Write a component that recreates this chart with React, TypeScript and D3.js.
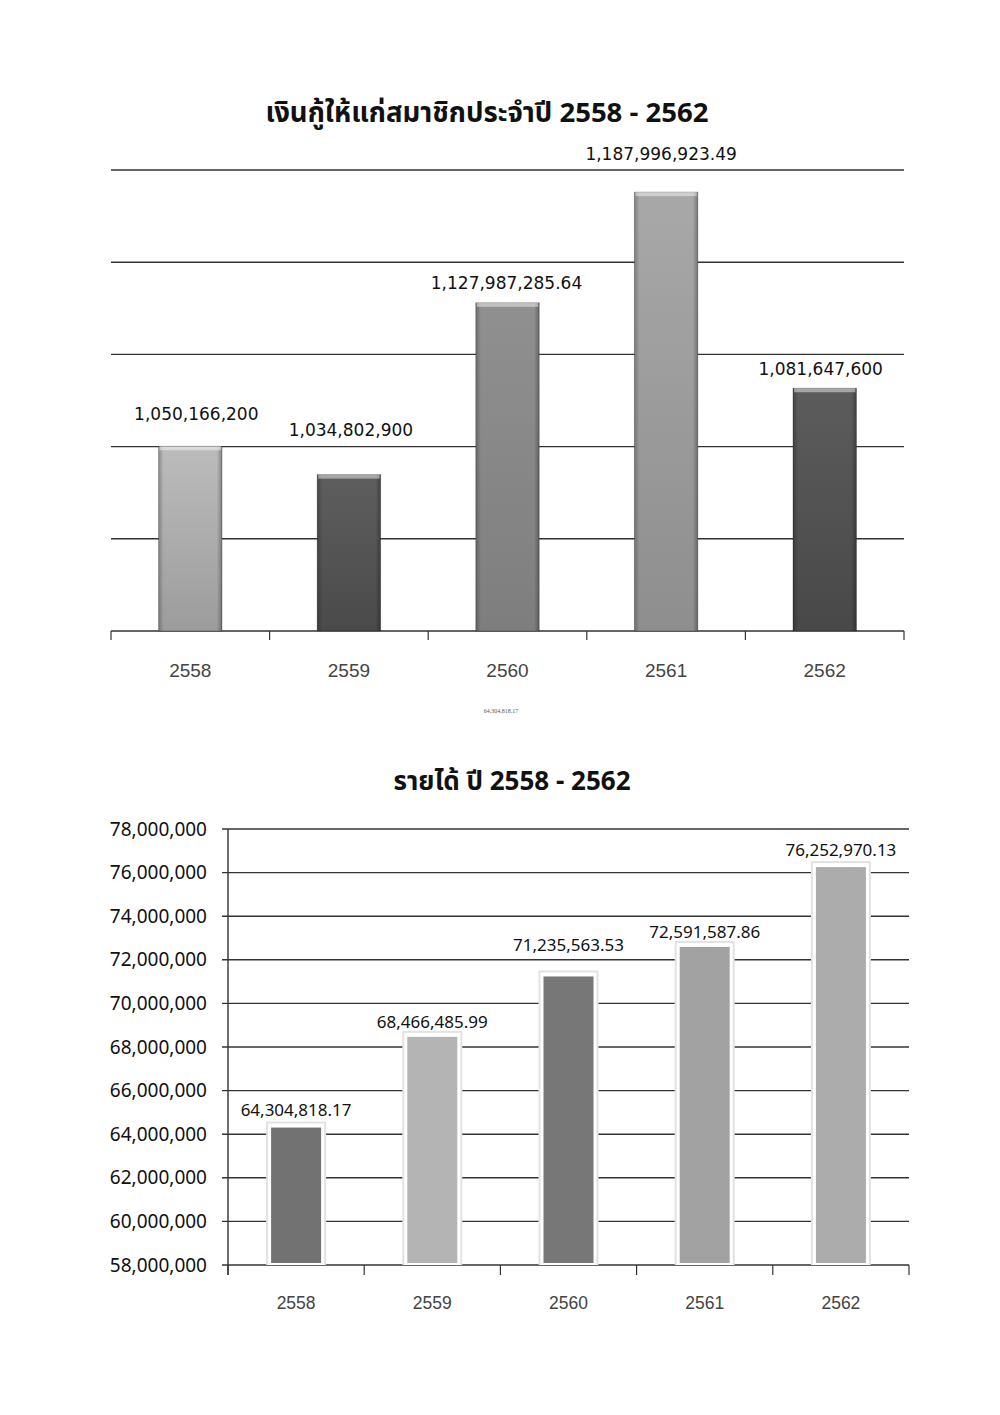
import React from "react";
import * as d3 from "d3";

const years = ["2558", "2559", "2560", "2561", "2562"];
const loanValues = [1050166200, 1034802900, 1127987285.64, 1187996923.49, 1081647600];
const loanLabels = ["1,050,166,200", "1,034,802,900", "1,127,987,285.64", "1,187,996,923.49", "1,081,647,600"];
const loanTicks = [950e6, 1000e6, 1050e6, 1100e6, 1150e6, 1200e6];
const loanColors = [
  ["#bcbcbc", "#9c9c9c"],
  ["#5e5e5e", "#4a4a4a"],
  ["#909090", "#7e7e7e"],
  ["#a8a8a8", "#8e8e8e"],
  ["#5c5c5c", "#484848"],
];

const incomeValues = [64304818.17, 68466485.99, 71235563.53, 72591587.86, 76252970.13];
const incomeLabels = ["64,304,818.17", "68,466,485.99", "71,235,563.53", "72,591,587.86", "76,252,970.13"];
const incomeTicks = [58e6, 60e6, 62e6, 64e6, 66e6, 68e6, 70e6, 72e6, 74e6, 76e6, 78e6];
const incomeColors = ["#727272", "#b4b4b4", "#777777", "#a2a2a2", "#acacac"];

const title1 = "เงินกู้ให้แก่สมาชิกประจำปี 2558 - 2562";
const title2 = "รายได้ ปี 2558 - 2562";
const strayNote = "64,304,818.17";

// label placement nudges (layout only): [dx, lift above bar top]
const loanLabelNudge = [[6, 26], [2, 39], [-1, 14], [-5, 32], [-4, 13]];
const incomeLabelNudge = [[0, 12], [0, 9], [0, 25], [0, 9], [0, 11]];

const fmt = d3.format(",");

export default function App() {
  const x1 = d3.scaleBand<string>().domain(years).range([111, 904]).padding(0);
  const y1 = d3.scaleLinear().domain([950e6, 1200e6]).range([631, 170]);
  const bw1 = x1.bandwidth() * 0.4;

  const x2 = d3.scaleBand<string>().domain(years).range([228, 909]).padding(0);
  const y2 = d3.scaleLinear().domain([58e6, 78e6]).range([1265, 829]);
  const bwIn = 50;
  const bwOut = 56;

  const thai = "'Noto Sans Thai', 'Noto Sans', 'DejaVu Sans', sans-serif";

  return (
    <svg
      width={1000}
      height={1415}
      style={{ position: "absolute", left: 0, top: 0, background: "#fff" }}
    >
      <defs>
        {loanColors.map((c, i) => (
          <linearGradient key={i} id={`lg${i}`} x1="0" y1="0" x2="0" y2="1">
            <stop offset="0" stopColor={c[0]} />
            <stop offset="1" stopColor={c[1]} />
          </linearGradient>
        ))}
        <linearGradient id="edge" x1="0" y1="0" x2="1" y2="0">
          <stop offset="0" stopColor="#000" stopOpacity={0.25} />
          <stop offset="0.08" stopColor="#000" stopOpacity={0} />
          <stop offset="0.92" stopColor="#000" stopOpacity={0} />
          <stop offset="1" stopColor="#000" stopOpacity={0.3} />
        </linearGradient>
      </defs>

      <text x={487} y={122} textAnchor="middle" fontFamily={thai} fontWeight="bold" fontSize={27.5} fill="#111">
        {title1}
      </text>

      {loanTicks.map((t) => (
        <line key={t} x1={111} x2={904} y1={y1(t)} y2={y1(t)} stroke="#333" strokeWidth={1.4} />
      ))}
      {[...years.map((y) => x1(y)!), 904].map((xv, i) => (
        <line key={i} x1={xv} x2={xv} y1={631} y2={640} stroke="#333" strokeWidth={1.2} />
      ))}

      {years.map((yr, i) => {
        const cx = x1(yr)! + x1.bandwidth() / 2;
        const top = y1(loanValues[i]);
        const h = 631 - top;
        return (
          <g key={yr}>
            <rect x={cx - bw1 / 2} y={top} width={bw1} height={h} fill={`url(#lg${i})`} stroke="rgba(0,0,0,0.25)" strokeWidth={1} />
            <rect x={cx - bw1 / 2} y={top} width={bw1} height={h} fill="url(#edge)" />
            <rect x={cx - bw1 / 2 + 1} y={top} width={bw1 - 2} height={4} fill="#fff" fillOpacity={0.45} />
            <text
              x={cx + loanLabelNudge[i][0]}
              y={top - loanLabelNudge[i][1]}
              textAnchor="middle"
              fontFamily="'DejaVu Sans', sans-serif"
              fontSize={17}
              fill="#111"
            >
              {loanLabels[i]}
            </text>
            <text x={cx} y={677} textAnchor="middle" fontFamily="'Liberation Sans', Arial, sans-serif" fontSize={19} fill="#444">
              {yr}
            </text>
          </g>
        );
      })}

      <text x={501} y={713} textAnchor="middle" fontFamily="'Liberation Serif', serif" fontSize={6} fill="#555">
        {strayNote}
      </text>

      <text x={512} y={790} textAnchor="middle" fontFamily={thai} fontWeight="bold" fontSize={26} fill="#111">
        {title2}
      </text>

      {incomeTicks.map((t) => (
        <g key={t}>
          <line x1={222} x2={909} y1={y2(t)} y2={y2(t)} stroke="#333" strokeWidth={1.4} />
          <text x={207} y={y2(t) + 6.5} textAnchor="end" fontFamily="'Noto Sans', sans-serif" fontSize={19} fill="#111">
            {fmt(t)}
          </text>
        </g>
      ))}
      <line x1={228} x2={228} y1={829} y2={1275} stroke="#333" strokeWidth={1.4} />
      {[...years.map((y) => x2(y)!), 909].map((xv, i) => (
        <line key={i} x1={xv} x2={xv} y1={1265} y2={1275} stroke="#333" strokeWidth={1.2} />
      ))}

      {years.map((yr, i) => {
        const cx = x2(yr)! + x2.bandwidth() / 2;
        const top = y2(incomeValues[i]);
        const h = 1265 - top;
        return (
          <g key={yr}>
            <rect x={cx - bwOut / 2 - 2} y={top - 6} width={bwOut + 4} height={h + 6} fill="#e2e2e2" />
            <rect x={cx - bwOut / 2} y={top - 4} width={bwOut} height={h + 4} fill="#fff" />
            <rect x={cx - bwIn / 2} y={top} width={bwIn} height={h - 2} fill={incomeColors[i]} />
            <text
              x={cx + incomeLabelNudge[i][0]}
              y={top - incomeLabelNudge[i][1]}
              textAnchor="middle"
              fontFamily="'Noto Sans', sans-serif"
              fontSize={17}
              fill="#111"
            >
              {incomeLabels[i]}
            </text>
            <text x={cx} y={1309} textAnchor="middle" fontFamily="'Liberation Sans', Arial, sans-serif" fontSize={17.5} fill="#444">
              {yr}
            </text>
          </g>
        );
      })}
    </svg>
  );
}
